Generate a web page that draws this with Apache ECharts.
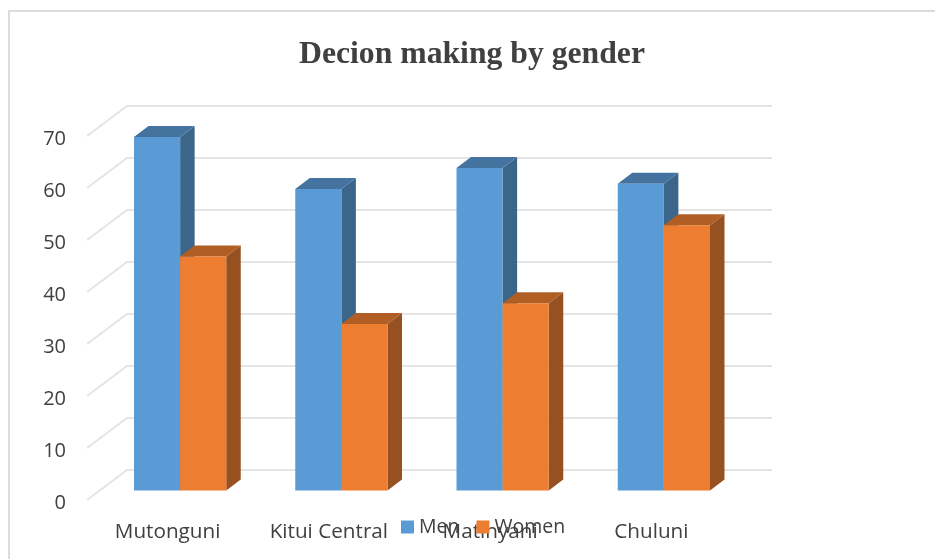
<!DOCTYPE html>
<html><head><meta charset="utf-8">
<style>html,body{margin:0;padding:0;background:#fff}#c{width:935px;height:559px}</style>
<script src="https://cdn.jsdelivr.net/npm/echarts@6/dist/echarts.min.js"></script>
</head><body><div id="c"></div>
<script>
const categories = ['Mutonguni', 'Kitui Central', 'Matinyani', 'Chuluni'];
const men = [68, 58, 62, 59];
const women = [45, 32, 36, 51];
const ticks = [0, 10, 20, 30, 40, 50, 60, 70];

const chart = echarts.init(document.getElementById('c'), null, {renderer: 'canvas'});
const BAR = 0.286, DX = 14.5, DY = 11, SHIFT_X = 12.5, SHIFT_Y = 9.5, WALL_X = 40, WALL_Y = 30;

function barRenderer(side, front, top, dark) {
  return function (params, api) {
    const base = api.coord([api.value(0), 0]);
    const head = api.coord([api.value(0), api.value(1)]);
    const w = api.size([1, 0])[0] * BAR;
    const x0 = base[0] + SHIFT_X + (side < 0 ? -w : 0), x1 = x0 + w;
    const yb = base[1] - SHIFT_Y, yt = head[1] - SHIFT_Y;
    return {type: 'group', children: [
      {type: 'polygon', shape: {points: [[x1, yt], [x1 + DX, yt - DY], [x1 + DX, yb - DY], [x1, yb]]}, style: {fill: dark}},
      {type: 'polygon', shape: {points: [[x0, yt], [x0 + DX, yt - DY], [x1 + DX, yt - DY], [x1, yt]]}, style: {fill: top}},
      {type: 'rect', shape: {x: x0, y: yt, width: w, height: yb - yt}, style: {fill: front}}
    ]};
  };
}

chart.setOption({
  animation: false,
  backgroundColor: '#fff',
  title: {text: 'Decion making by gender', left: 467, top: 34, textAlign: 'center',
    textStyle: {fontFamily: 'Liberation Serif', fontWeight: 'bold', fontSize: 31.7, color: '#404040'}},
  legend: {left: 396, top: 512, itemWidth: 13, itemHeight: 13, itemGap: 17, icon: 'rect', data: ['Men', 'Women'],
    textStyle: {fontFamily: 'Open Sans', fontSize: 19.5, color: '#404040'}},
  grid: {left: 87, top: 136, width: 645, height: 364},
  xAxis: {type: 'category', data: categories, axisLine: {show: false}, axisTick: {show: false}, splitLine: {show: false},
    axisLabel: {fontFamily: 'Open Sans', fontSize: 20.7, color: '#404040', margin: 22, interval: 0}},
  yAxis: {type: 'value', min: 0, max: 70, interval: 10, axisLine: {show: false}, axisTick: {show: false}, splitLine: {show: false},
    axisLabel: {color: '#404040', margin: 21, formatter: '{a|{value}}',
      rich: {a: {fontFamily: 'Open Sans', fontSize: 20, color: '#404040', padding: [6, 0, 0, 0]}}}},
  series: [
    {type: 'custom', name: 'walls', coordinateSystem: 'cartesian2d', silent: true, z: 1, data: ticks.map(t => [0, t]),
      encode: {x: 0, y: 1},
      renderItem: function (params, api) {
        const v = api.value(1);
        const a = api.coord([0, v]);
        const l = params.coordSys.x, r = params.coordSys.x + params.coordSys.width, y = a[1];
        return {type: 'polyline', shape: {points: [[l, y], [l + WALL_X, y - WALL_Y], [r + WALL_X, y - WALL_Y]]},
          style: {fill: null, stroke: '#e4e4e4', lineWidth: 2}};
      }},
    {type: 'custom', name: 'Men', coordinateSystem: 'cartesian2d', z: 2, itemStyle: {color: '#5B9BD5'},
      data: men.map((v, i) => [i, v]), encode: {x: 0, y: 1},
      renderItem: barRenderer(-1, '#5B9BD5', '#44739F', '#3B6589')},
    {type: 'custom', name: 'Women', coordinateSystem: 'cartesian2d', z: 3, itemStyle: {color: '#ED7D31'},
      data: women.map((v, i) => [i, v]), encode: {x: 0, y: 1},
      renderItem: barRenderer(1, '#ED7D31', '#B15E25', '#975120')}
  ],
  graphic: [
    {type: 'polyline', silent: true, shape: {points: [[9, 559], [9, 11], [935, 11]]}, style: {fill: null, stroke: '#dcdcdc', lineWidth: 2}}
  ]
});
</script></body></html>
